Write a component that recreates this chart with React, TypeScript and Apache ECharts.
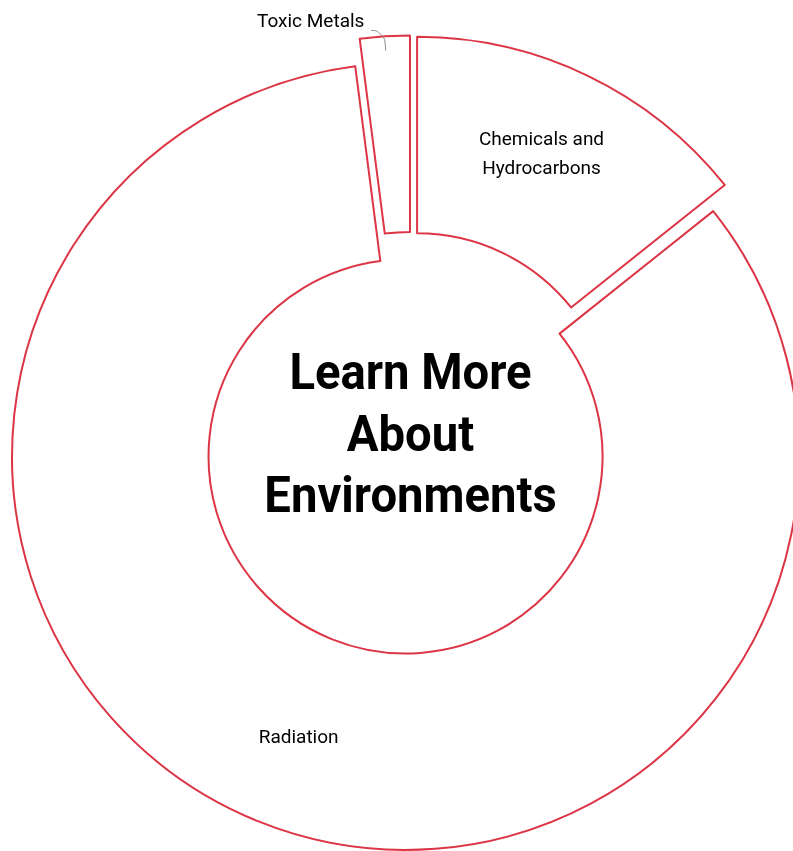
import React, { useEffect, useRef } from 'react';
import * as echarts from 'echarts';

const categories = ['Chemicals and\nHydrocarbons', 'Radiation', 'Toxic Metals'];
const values = [7, 41, 1];
const outsideLabel = [false, false, true];
const centerLines = ['Learn More', 'About', 'Environments'];

export default function App() {
  const ref = useRef<HTMLDivElement>(null);
  useEffect(() => {
    const chart = echarts.init(ref.current!, null, { renderer: 'svg' });
    const red = '#dc3545';
    const base = { color: '#ffffff', borderColor: red, borderWidth: 2 };
    const center = [410.9, 443.2];
    const radius = [197, 393.5];
    const labelFont = { color: '#000', fontFamily: 'Roboto', fontSize: 19 };

    // Ring: every slice pulled out from the centre, labels inside
    const ringData = categories.map((name, i) => ({
      name,
      value: values[i],
      selected: true,
      label: outsideLabel[i]
        ? { show: false }
        : { show: true, position: 'inside', ...labelFont, lineHeight: 29 },
      labelLine: { show: false },
    }));

    // Invisible twin of the ring carrying the outside callout label
    const calloutData = categories.map((name, i) => ({
      name,
      value: values[i],
      label: outsideLabel[i]
        ? {
            show: true,
            position: 'outside',
            ...labelFont,
            lineHeight: 20,
            distanceToLabelLine: 7,
            formatter: (p: any) => p.name + '\n',
          }
        : { show: false },
      labelLine: outsideLabel[i]
        ? { show: true, length: 20, length2: 13, smooth: 0.6, lineStyle: { color: '#888', width: 1 } }
        : { show: false },
    }));

    chart.setOption({
      animation: false,
      series: [
        {
          type: 'pie',
          z: 2,
          center,
          radius,
          startAngle: 90,
          clockwise: true,
          selectedMode: 'multiple',
          selectedOffset: 14.3,
          itemStyle: base,
          emphasis: { disabled: true },
          select: { itemStyle: base },
          labelLayout: (params: any) => {
            if (params.dataIndex === 0) return { dx: -5, dy: -9 };
            if (params.dataIndex === 1) return { dx: 5, dy: 4 };
            return {};
          },
          data: ringData,
        },
        {
          type: 'pie',
          z: 5,
          center,
          radius,
          startAngle: 90,
          clockwise: true,
          silent: true,
          avoidLabelOverlap: false,
          itemStyle: { color: 'transparent', borderWidth: 0 },
          emphasis: { disabled: true },
          data: calloutData,
        },
      ],
      graphic: [
        {
          type: 'text',
          x: 410.5,
          y: 434,
          scaleX: 0.945,
          style: {
            text: centerLines.join('\n'),
            fontFamily: 'Roboto',
            fontWeight: 'bold',
            fontSize: 50,
            lineHeight: 61.5,
            fill: '#000',
            align: 'center',
            verticalAlign: 'middle',
            textAlign: 'center',
            textVerticalAlign: 'middle',
          },
        },
      ],
    });
    return () => chart.dispose();
  }, []);
  return <div ref={ref} style={{ position: 'fixed', left: 0, top: 0, width: 793, height: 851 }} />;
}
